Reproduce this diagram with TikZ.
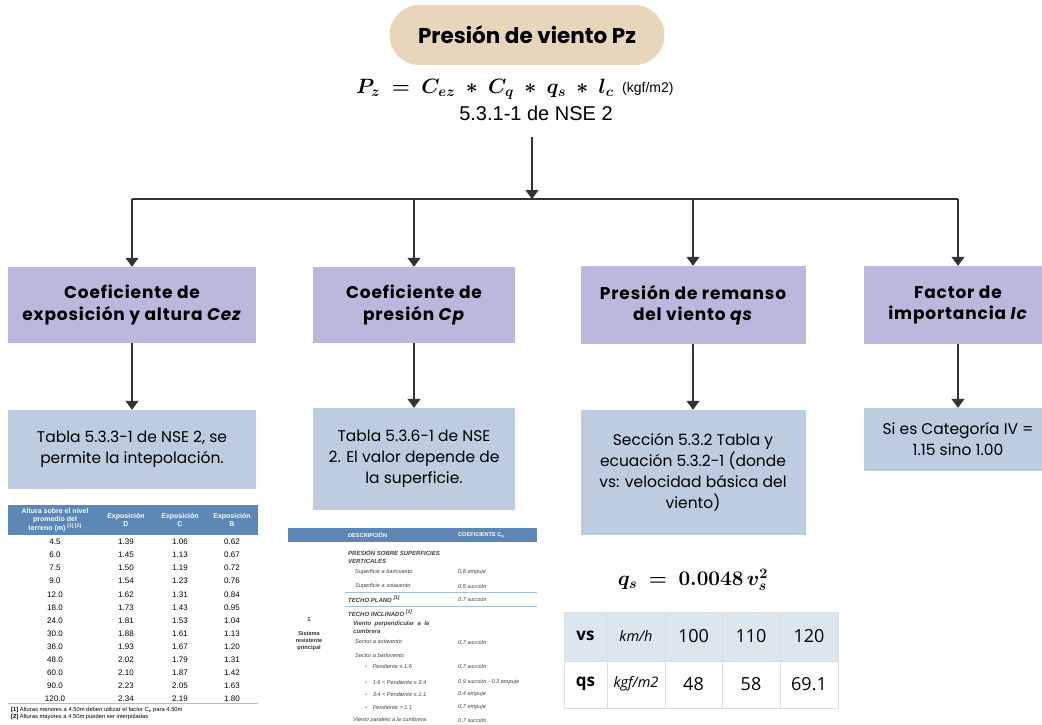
\documentclass[tikz,border=0pt]{standalone}
\usepackage[no-math]{fontspec}
\usepackage{bm}
\setmainfont{Poppins}
\newfontfamily\popesp{Poppins}[LetterSpace=5]
\newfontfamily\arialf{Liberation Sans}
\newfontfamily\opensf{Open Sans}
\usetikzlibrary{arrows.meta,positioning}
\definecolor{arena}{HTML}{E7D6BA}
\definecolor{lila}{HTML}{BBB8DD}
\definecolor{celeste}{HTML}{BDCDDF}
\definecolor{acero}{HTML}{5C87B6}
\definecolor{gris}{HTML}{333333}
\definecolor{filaclara}{HTML}{DCE6EF}
\definecolor{borde}{HTML}{DDDDDD}
\definecolor{lineatab}{HTML}{A7C0DB}
\newcommand{\presform}{$\bm{P_z}\;\bm{=}\;\bm{C_{ez}}\;\bm{*}\;\bm{C_q}\;\bm{*}\;\bm{q_s}\;\bm{*}\;\bm{l_c}$}
\newcommand{\qsform}{$\bm{q_s}\;\bm{=}\;\bm{0.0048}\,\bm{v_s^2}$}
\tikzset{
  flecha/.style={draw=gris, line width=1.3pt, -{Triangle[width=13pt,length=9pt]}},
  encabezado/.style={fill=lila, inner sep=0pt, align=center,
    font=\popesp\fontsize{17}{21.5}\selectfont\bfseries},
  detalle/.style={fill=celeste, inner sep=0pt, align=center,
    font=\fontsize{15.5}{21}\selectfont},
  cabtab/.style={text=white, align=center, inner sep=0pt,
    font=\arialf\fontsize{7}{8.5}\selectfont\bfseries},
  dato/.style={inner sep=0pt, font=\arialf\fontsize{8}{9}\selectfont},
  nota/.style={anchor=west, inner sep=0pt, font=\arialf\fontsize{5.8}{7}\selectfont},
  desc/.style={anchor=west, inner sep=0pt, align=left, text=black!75,
    font=\arialf\fontsize{5.6}{7.5}\selectfont\itshape},
  celda/.style={inner sep=0pt, font=\opensf\fontsize{18}{20}\selectfont}
}
\begin{document}
\begin{tikzpicture}[x=1pt,y=-1pt]
\useasboundingbox (0,0) rectangle (1042,725);

% Titulo y formula general
\node[fill=arena, rounded corners=30pt, minimum width=275pt, minimum height=60pt,
  font=\fontsize{21.5}{24}\selectfont\bfseries] (titulo) at (527,35) {Presión de viento Pz};
\node[inner sep=0pt, font=\fontsize{19.5}{22}\selectfont] (formula) at (485,89) {\presform};
\node[inner sep=0pt, right=8pt of formula, font=\arialf\fontsize{14}{16}\selectfont] (unidad) {(kgf/m2)};
\node[inner sep=0pt, font=\arialf\fontsize{20}{22}\selectfont] (norma) at (536,113) {5.3.1-1 de NSE 2};
\coordinate (arranque) at (532,137);
\coordinate (bus) at (532,199);

% Cajas de factores
\node[encabezado, minimum width=248pt, minimum height=76pt] (cez) at (132,305) {Coeficiente de\\exposición y altura \textit{Cez}};
\node[encabezado, minimum width=202pt, minimum height=76pt] (cp) at (414,305) {Coeficiente de\\presión \textit{Cp}};
\node[encabezado, minimum width=225pt, minimum height=78pt] (qs) at (693,305) {Presión de remanso\\del viento \textit{qs}};
\node[encabezado, minimum width=188pt, minimum height=78pt] (ic) at (958,305) {Factor de\\importancia \textit{Ic}};

% Cajas de referencia
\node[detalle, minimum width=248pt, minimum height=79pt] (tcez) at (132,449.5) {Tabla 5.3.3-1 de NSE 2, se\\permite la intepolación.};
\node[detalle, minimum width=202pt, minimum height=102pt] (tcp) at (414,459) {Tabla 5.3.6-1 de NSE\\2. El valor depende de\\la superficie.};
\node[detalle, minimum width=225pt, minimum height=125pt] (tqs) at (693,472.5) {Sección 5.3.2 Tabla y\\ecuación 5.3.2-1 (donde\\vs: velocidad básica del\\viento)};
\node[detalle, minimum width=188pt, minimum height=63pt] (tic) at (958,439.5) {Si es Categoría IV =\\1.15 sino 1.00};

% Conectores
\draw[flecha] (arranque) -- (bus);
\draw[gris, line width=1.3pt] (bus -| cez.north) -- (bus -| ic.north);
\foreach \caja in {cez,cp,qs,ic}
  \draw[flecha] (bus -| \caja.north) -- (\caja.north);
\draw[flecha] (cez) -- (tcez);
\draw[flecha] (cp) -- (tcp);
\draw[flecha] (qs) -- (tqs);
\draw[flecha] (ic) -- (tic);

% Tabla 5.3.3-1
\fill[acero] (8,505) rectangle (258,535);
\node[cabtab] (hAlt) at (55,520) {Altura sobre el nivel\\promedio del\\terreno (m) \textsuperscript{[1] [2]}};
\node[cabtab] (hD) at (126,520) {Exposición\\D};
\node[cabtab] (hC) at (180,520) {Exposición\\C};
\node[cabtab] (hB) at (232,520) {Exposición\\B};
\foreach \alt/\ed/\ec/\eb [count=\i from 0] in {4.5/1.39/1.06/0.62, 6.0/1.45/1.13/0.67,
  7.5/1.50/1.19/0.72, 9.0/1.54/1.23/0.76, 12.0/1.62/1.31/0.84, 18.0/1.73/1.43/0.95,
  24.0/1.81/1.53/1.04, 30.0/1.88/1.61/1.13, 36.0/1.93/1.67/1.20, 48.0/2.02/1.79/1.31,
  60.0/2.10/1.87/1.42, 90.0/2.23/2.05/1.63, 120.0/2.34/2.19/1.80}{
  \node[dato] (alt\i) at (55,{542+13.08*\i}) {\alt};
  \node[dato] (ed\i) at (126,{542+13.08*\i}) {\ed};
  \node[dato] (ec\i) at (180,{542+13.08*\i}) {\ec};
  \node[dato] (eb\i) at (232,{542+13.08*\i}) {\eb};
}
\draw[lineatab, line width=0.8pt] (8,703.5) -- (258,703.5);
\node[nota] (nota1) at (11,709.5) {\textbf{[1]} Alturas menores a 4.50m deben utilizar el factor C\textsubscript{e} para 4.50m};
\node[nota] (nota2) at (11,716.5) {\textbf{[2]} Alturas mayores a 4.50m pueden ser interpoladas};

% Tabla 5.3.6-1
\fill[acero] (288,528) rectangle (537,542);
\node[cabtab, anchor=west, font=\arialf\fontsize{5.6}{7}\selectfont\bfseries] (hDesc) at (348,535) {DESCRIPCIÓN};
\node[cabtab, anchor=west, font=\arialf\fontsize{5.6}{7}\selectfont\bfseries] (hCoef) at (458,535) {COEFICIENTE C\textsubscript{q}};
\node[desc, font=\arialf\fontsize{6}{8}\selectfont\bfseries\itshape] (d1) at (348,557) {PRESIÓN SOBRE SUPERFICIES\\VERTICALES};
\node[desc] (d2) at (355,572) {Superficie a barlovento};
\node[desc] (c2) at (458,572) {0.8 empuje};
\node[desc] (d3) at (355,586) {Superficie a sotavento};
\node[desc] (c3) at (458,586) {0.5 succión};
\draw[lineatab, line width=0.6pt] (345,592) -- (537,592);
\node[desc, font=\arialf\fontsize{6}{8}\selectfont\bfseries\itshape] (d4) at (348,599) {TECHO PLANO \textsuperscript{[1]}};
\node[desc] (c4) at (458,599) {0.7 succión};
\draw[lineatab, line width=0.6pt] (345,606) -- (537,606);
\node[desc, font=\arialf\fontsize{6}{8}\selectfont\bfseries\itshape] (d5) at (348,613) {TECHO INCLINADO \textsuperscript{[1]}};
\node[desc, font=\arialf\fontsize{6}{8}\selectfont\bfseries\itshape] (d6) at (353,627) {Viento \ perpendicular \ a \ la\\cumbrera};
\node[desc] (d7) at (355,642) {Sector a sotavento};
\node[desc] (c7) at (458,642) {0.7 succión};
\node[desc] (d8) at (355,655) {Sector a barlovento:};
\node[desc] (d9) at (365,666) {\textcolor{acero}{\textbullet}\quad Pendiente ≤ 1:6};
\node[desc] (c9) at (458,666) {0.7 succión};
\node[desc] (d10) at (365,682) {\textcolor{acero}{\textbullet}\quad 1:6 < Pendiente ≤ 3:4};
\node[desc] (c10) at (458,682) {0.9 succión - 0.3 empuje};
\node[desc] (d11) at (365,694) {\textcolor{acero}{\textbullet}\quad 3:4 < Pendiente ≤ 1:1};
\node[desc] (c11) at (458,694) {0.4 empuje};
\node[desc] (d12) at (365,707) {\textcolor{acero}{\textbullet}\quad Pendiente > 1:1};
\node[desc] (c12) at (458,707) {0.7 empuje};
\node[desc] (d13) at (353,720) {Viento paralelo a la cumbrera};
\node[desc] (c13) at (458,720) {0.7 succión};
\node[cabtab, text=black!80, font=\arialf\fontsize{6}{7}\selectfont\bfseries] (sis1) at (309,619) {1};
\node[cabtab, text=black!80, font=\arialf\fontsize{5.6}{7}\selectfont\bfseries] (sis2) at (309,641) {Sistema\\resistente\\principal};

% Ecuacion de qs y tabla de valores
\node[inner sep=0pt, font=\fontsize{22}{24}\selectfont] (ecqs) at (693,580) {\qsform};
\fill[filaclara] (564,612) rectangle (838,661);
\draw[borde, line width=1pt] (564,612) rectangle (838,708);
\draw[borde, line width=1pt] (564,661) -- (838,661);
\foreach \xc in {607,665,722,780}
  \draw[borde, line width=1pt] (\xc,612) -- (\xc,708);
\node[celda, font=\opensf\fontsize{17}{20}\selectfont\bfseries] (vs) at (585.5,636) {vs};
\node[celda, font=\opensf\fontsize{14.5}{16}\selectfont\itshape] (kmh) at (636,636) {km/h};
\node[celda] (v100) at (693.5,636) {100};
\node[celda] (v110) at (751,636) {110};
\node[celda] (v120) at (809,636) {120};
\node[celda, font=\opensf\fontsize{17}{20}\selectfont\bfseries] (qsf) at (585.5,684) {qs};
\node[celda, font=\opensf\fontsize{14.5}{16}\selectfont\itshape] (kgf) at (636,684) {kgf/m2};
\node[celda] (q48) at (693.5,684) {48};
\node[celda] (q58) at (751,684) {58};
\node[celda] (q69) at (809,684) {69.1};
\end{tikzpicture}
\end{document}
